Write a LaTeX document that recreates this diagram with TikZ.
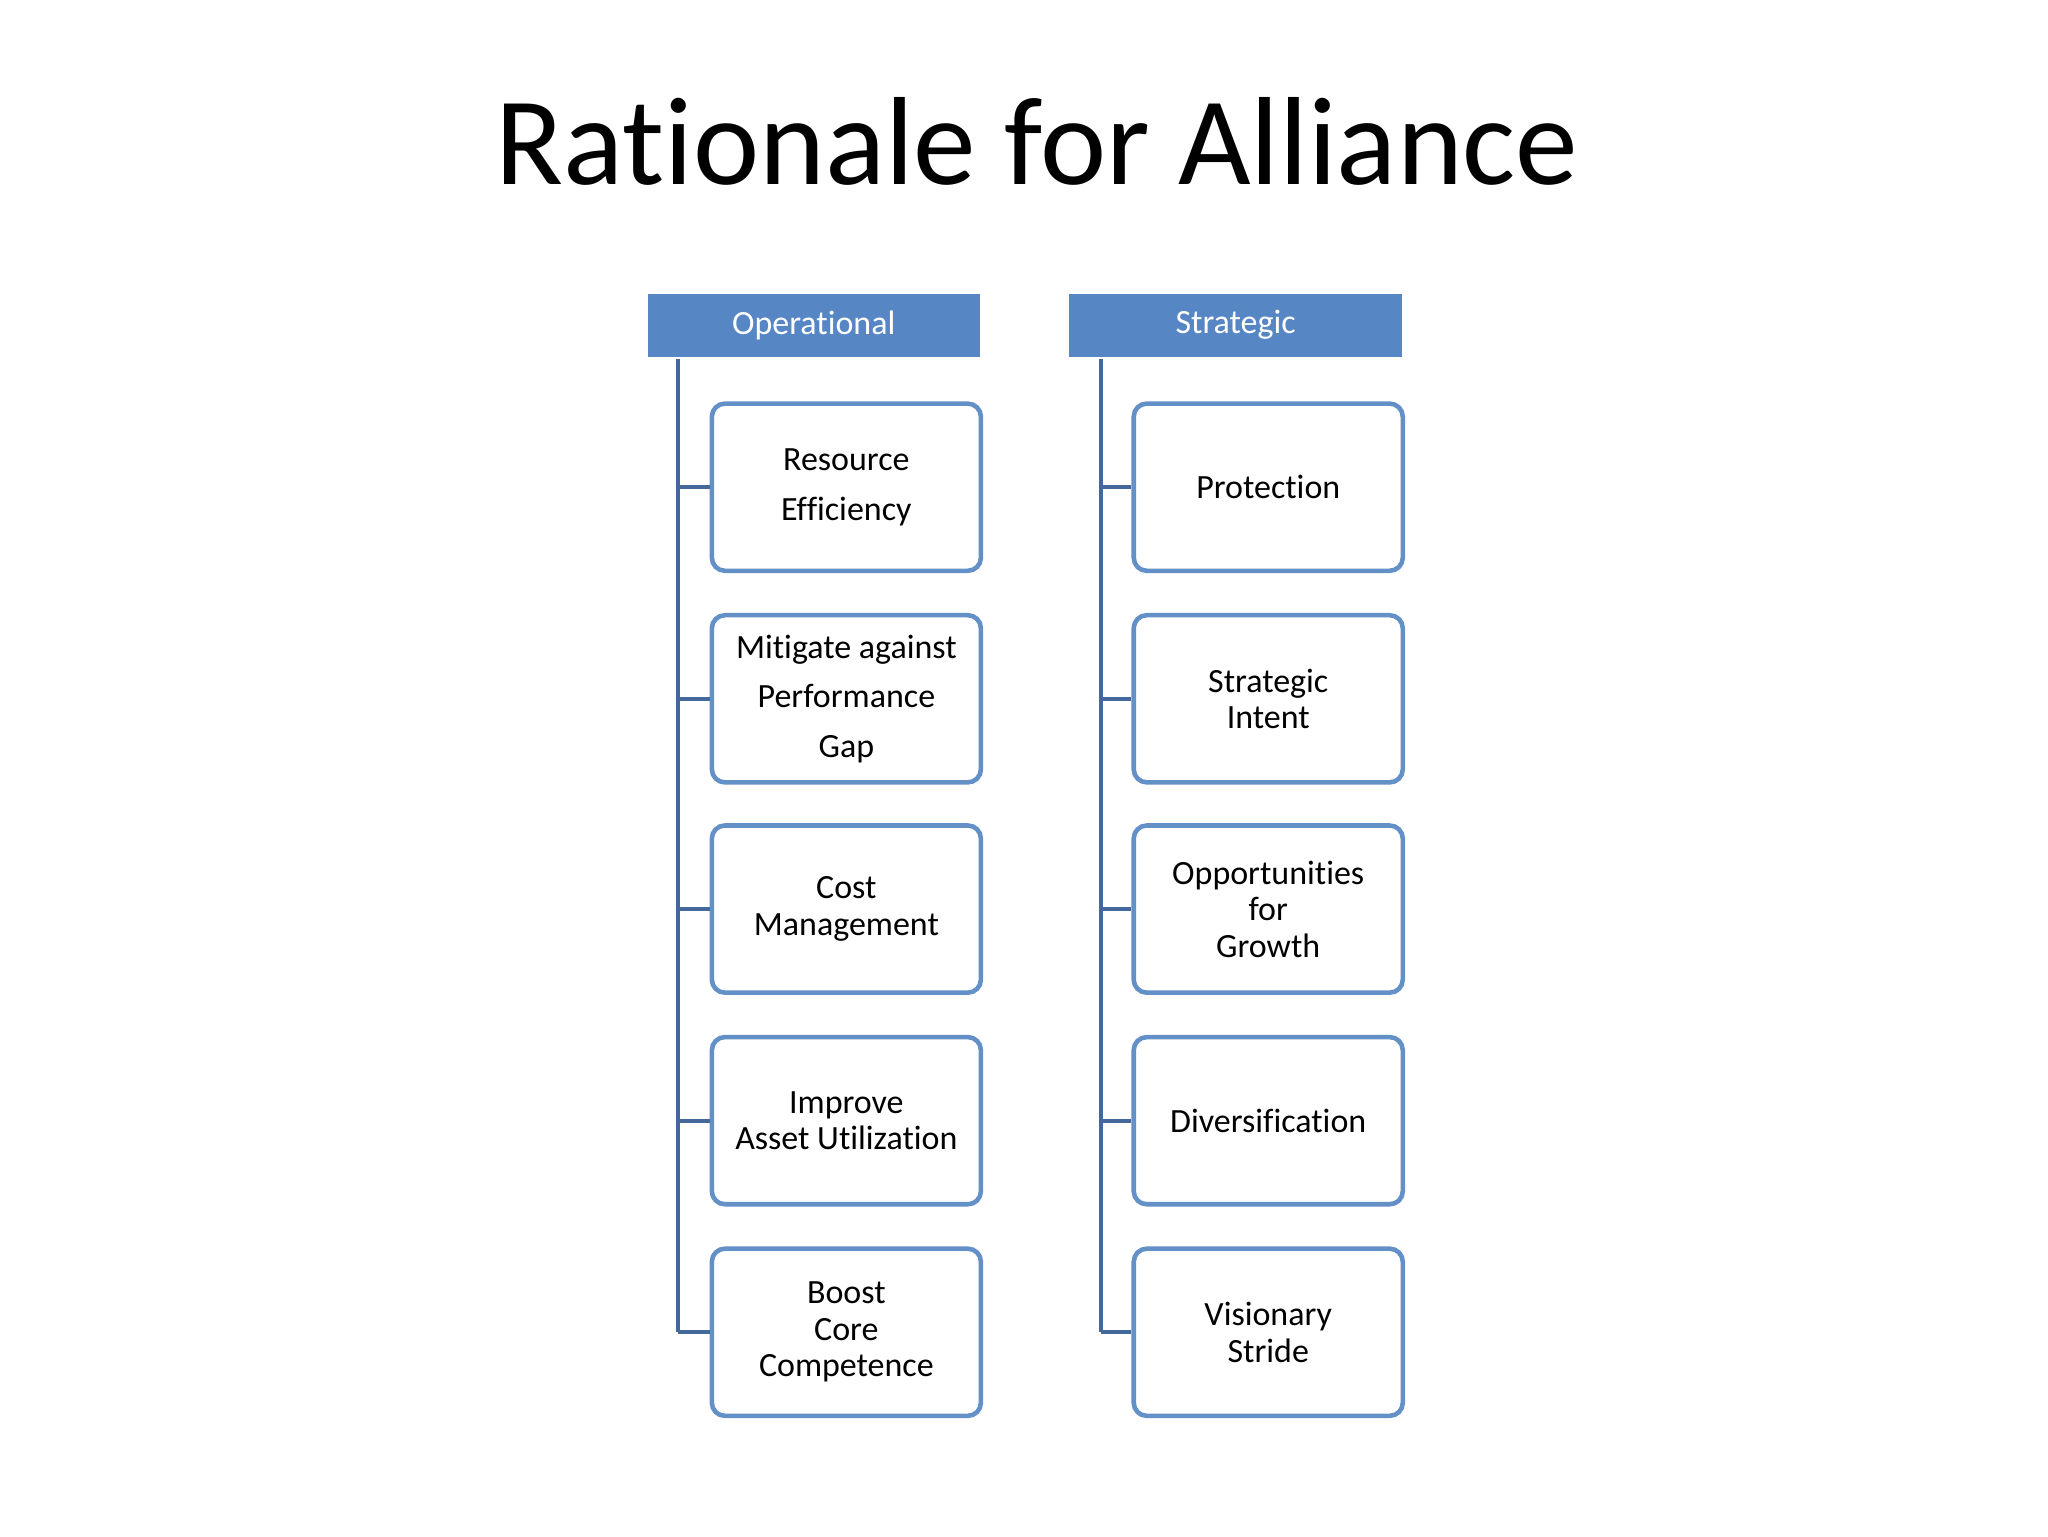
\documentclass[tikz,border=0pt]{standalone}
\usepackage{fontspec}
\setmainfont[Ligatures=NoCommon]{Carlito}
\definecolor{hdr}{HTML}{5686C4}
\definecolor{bdr}{HTML}{6490C8}
\definecolor{ln}{HTML}{45689A}
\begin{document}
\begin{tikzpicture}[x=1pt,y=-1pt,
  hdrbox/.style={draw=white,line width=1.5pt,fill=hdr,minimum width=256pt,minimum height=50pt,text=white,font=\fontsize{26}{30}\selectfont,inner sep=0pt},
  itembox/.style={draw=bdr,line width=3.5pt,rounded corners=10pt,fill=white,minimum width=206pt,minimum height=128pt,font=\fontsize{26}{28}\selectfont,align=center,inner sep=2pt},
  conn/.style={draw=ln,line width=3pt}]
\useasboundingbox (0,0) rectangle (1568,1176);
\node[font=\fontsize{96}{110}\selectfont] (title) at (794,108) {Rationale for Alliance};
\node[hdrbox] (h1) at (623,249) {Operational};
\node[hdrbox] (h2) at (946,249) {Strategic};
\foreach \n/\y/\t in {1/373/{Resource\\[10pt]Efficiency},2/535/{Mitigate against\\[10pt]Performance\\[10pt]Gap},3/696/{Cost\\Management},4/858/{Improve\\Asset Utilization},5/1020/{Boost\\Core\\Competence}}{
  \node[itembox] (a\n) at (648,\y) {\t};
  \coordinate (la\n) at (519,\y);
  \draw[conn] (la\n) -- (a\n.west);
}
\foreach \n/\y/\t in {1/373/{Protection},2/535/{Strategic\\Intent},3/696/{Opportunities\\for\\Growth},4/858/{Diversification},5/1020/{Visionary\\Stride}}{
  \node[itembox] (b\n) at (971,\y) {\t};
  \coordinate (lb\n) at (843,\y);
  \draw[conn] (lb\n) -- (b\n.west);
}
\coordinate (ta) at (519,275);
\coordinate (tb) at (843,275);
\draw[conn] (ta) -- (la5);
\draw[conn] (tb) -- (lb5);
\end{tikzpicture}
\end{document}
